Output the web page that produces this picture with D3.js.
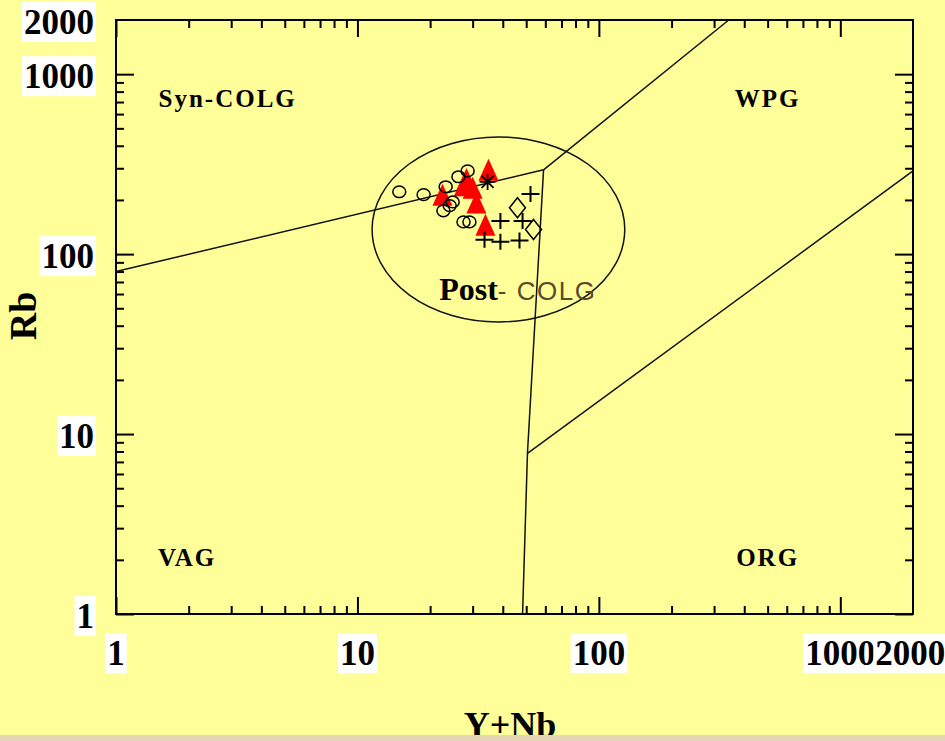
<!DOCTYPE html>
<html>
<head>
<meta charset="UTF-8">
<script src="https://d3js.org/d3.v7.min.js"></script>
<style>
  body { margin: 0; background: #ffff99; }
  svg { display: block; }
</style>
</head>
<body>
<svg id="chart" width="945" height="741"></svg>
<script>
// sample groups, [Y+Nb, Rb]
const circleSamples = [[14.9,222],[18.8,214],[23.2,237],[22.7,174],[24.8,195],[26.2,269],[28.6,290],[27.5,151],[29.1,151],[24.1,186]];
const triangleSamples = [[22.5,206],[28.3,252],[30.0,225],[27.6,232],[31.1,186],[34.9,283],[33.9,140]];
const starSamples = [[34.6,252]];
const plusSamples = [[52.1,216],[39.1,153],[48.3,153],[33.6,120],[39.1,117],[46.9,119]];
const diamondSamples = [[46.0,181],[53.6,137]];

// field boundaries
const synVagLine = [[1,80],[59,294]];
const synWpgLine = [[59,294],[345,2000]];
const vagWpgLine = [[59,294],[50.6,7.8],[48.3,1]];
const orgWpgLine = [[50.6,7.8],[2000,290]];
// post-COLG ellipse extent
const postColgX = [11.5,128];
const postColgY = [42,448];

const fieldLabels = [
  { text: "Syn-COLG", x: 2.9, y: 656 },
  { text: "WPG", x: 500, y: 656 },
  { text: "VAG", x: 1.97, y: 1.85 },
  { text: "ORG", x: 500, y: 1.85 }
];

const xTickLabels = [1,10,100,1000,2000];
const yTickLabels = [1,10,100,1000,2000];
const majorTicks = [1,10,100,1000];

const svg = d3.select("#chart");
const x = d3.scaleLog().domain([1,2000]).range([116,913]);
const y = d3.scaleLog().domain([1,2000]).range([614,20]);

const minorTicks = [];
[1,10,100,1000].forEach(d => { for (let k = 2; k <= 9; k++) if (d * k < 2000) minorTicks.push(d * k); });

svg.append("rect").attr("width", 945).attr("height", 741).attr("fill", "#ffff99");

// ticks, all pointing inward
function ticks(axis, pos, vals, len) {
  const g = svg.append("g").attr("transform", pos)
    .call(axis.tickValues(vals).tickSize(len).tickSizeOuter(0).tickFormat(""));
  g.select(".domain").remove();
  g.selectAll("line").attr("stroke", "#000").attr("stroke-width", 2);
}
ticks(d3.axisBottom(x), "translate(0,614)", majorTicks, -17);
ticks(d3.axisBottom(x), "translate(0,614)", minorTicks, -8);
ticks(d3.axisTop(x), "translate(0,20)", majorTicks, -17);
ticks(d3.axisTop(x), "translate(0,20)", minorTicks, -8);
ticks(d3.axisLeft(y), "translate(116,0)", majorTicks, -18);
ticks(d3.axisLeft(y), "translate(116,0)", minorTicks, -8);
ticks(d3.axisRight(y), "translate(913,0)", majorTicks, -18);
ticks(d3.axisRight(y), "translate(913,0)", minorTicks, -8);

svg.append("rect").attr("x", x(1)).attr("y", y(2000))
  .attr("width", x(2000) - x(1)).attr("height", y(1) - y(2000))
  .attr("fill", "none").attr("stroke", "#000").attr("stroke-width", 2);

// boundaries
const line = d3.line().x(d => x(d[0])).y(d => y(d[1]));
[synVagLine, synWpgLine, vagWpgLine, orgWpgLine].forEach(l => {
  svg.append("path").attr("d", line(l)).attr("fill", "none")
    .attr("stroke", "#111").attr("stroke-width", 1.5);
});
svg.append("ellipse")
  .attr("cx", (x(postColgX[0]) + x(postColgX[1])) / 2)
  .attr("cy", (y(postColgY[0]) + y(postColgY[1])) / 2)
  .attr("rx", (x(postColgX[1]) - x(postColgX[0])) / 2)
  .attr("ry", (y(postColgY[0]) - y(postColgY[1])) / 2)
  .attr("fill", "none").attr("stroke", "#111").attr("stroke-width", 1.5);

// field names
svg.selectAll(".field").data(fieldLabels).join("text")
  .attr("x", d => x(d.x)).attr("y", d => y(d.y))
  .attr("text-anchor", "middle")
  .attr("font-family", "Liberation Serif, serif").attr("font-weight", "bold")
  .attr("font-size", 25).attr("letter-spacing", 2)
  .text(d => d.text);

const post = svg.append("text").attr("x", x(21.8)).attr("y", y(55.5))
  .attr("font-family", "Liberation Serif, serif");
post.append("tspan").attr("font-weight", "bold").attr("font-size", 32).attr("fill", "#000").text("Post");
post.append("tspan").attr("font-family", "Liberation Sans, sans-serif").attr("font-size", 26)
  .attr("letter-spacing", 1.5).attr("fill", "#5a4a2a").text("- COLG");

// samples
svg.selectAll(".tri").data(triangleSamples).join("path")
  .attr("transform", d => `translate(${x(d[0])},${y(d[1])})`)
  .attr("d", "M0,-14L10,8L-10,8Z")
  .attr("fill", "#ff0000");

svg.selectAll(".circ").data(circleSamples).join("ellipse")
  .attr("cx", d => x(d[0])).attr("cy", d => y(d[1]))
  .attr("rx", 6.5).attr("ry", 5.8)
  .attr("fill", "none").attr("stroke", "#000").attr("stroke-width", 1.5);

svg.selectAll(".star").data(starSamples).join("path")
  .attr("transform", d => `translate(${x(d[0])},${y(d[1])})`)
  .attr("d", "M-8,0H8M0,-8V8M-6,-6L6,6M-6,6L6,-6")
  .attr("stroke", "#000").attr("stroke-width", 1.8);

svg.selectAll(".plus").data(plusSamples).join("path")
  .attr("transform", d => `translate(${x(d[0])},${y(d[1])})`)
  .attr("d", "M-9,0H9M0,-8V8")
  .attr("stroke", "#000").attr("stroke-width", 2);

svg.selectAll(".dia").data(diamondSamples).join("path")
  .attr("transform", d => `translate(${x(d[0])},${y(d[1])})`)
  .attr("d", "M0,-10L8,0L0,10L-8,0Z")
  .attr("fill", "none").attr("stroke", "#000").attr("stroke-width", 1.5);

// tick labels on white boxes
function boxedLabel(txt, px, py, anchor) {
  const g = svg.append("g");
  const t = g.append("text").attr("x", px).attr("y", py)
    .attr("text-anchor", anchor).attr("dominant-baseline", "central")
    .attr("font-family", "Liberation Serif, serif").attr("font-weight", "bold")
    .attr("font-size", 35).text(txt);
  const b = t.node().getBBox();
  g.insert("rect", "text").attr("x", b.x - 2).attr("y", py - 20)
    .attr("width", b.width + 4).attr("height", 40).attr("fill", "#fff");
  return b;
}
yTickLabels.forEach(v => boxedLabel(String(v), 94, y(v) + 2, "end"));
// the last x label runs on straight after the previous one, as in the source
let prevBox = null;
xTickLabels.forEach((v, i) => {
  if (i === xTickLabels.length - 1) boxedLabel(String(v), prevBox.x + prevBox.width, 653, "start");
  else prevBox = boxedLabel(String(v), x(v), 653, "middle");
});

// axis titles
svg.append("text").attr("transform", "translate(36,316) rotate(-90)")
  .attr("text-anchor", "middle")
  .attr("font-family", "Liberation Serif, serif").attr("font-weight", "bold")
  .attr("font-size", 38).text("Rb");
svg.append("text").attr("x", 510).attr("y", 737).attr("text-anchor", "middle")
  .attr("font-family", "Liberation Serif, serif").attr("font-weight", "bold")
  .attr("font-size", 36).text("Y+Nb");

svg.append("rect").attr("x", 0).attr("y", 735).attr("width", 945).attr("height", 6)
  .attr("fill", "#e4d6b4");
</script>
</body>
</html>
